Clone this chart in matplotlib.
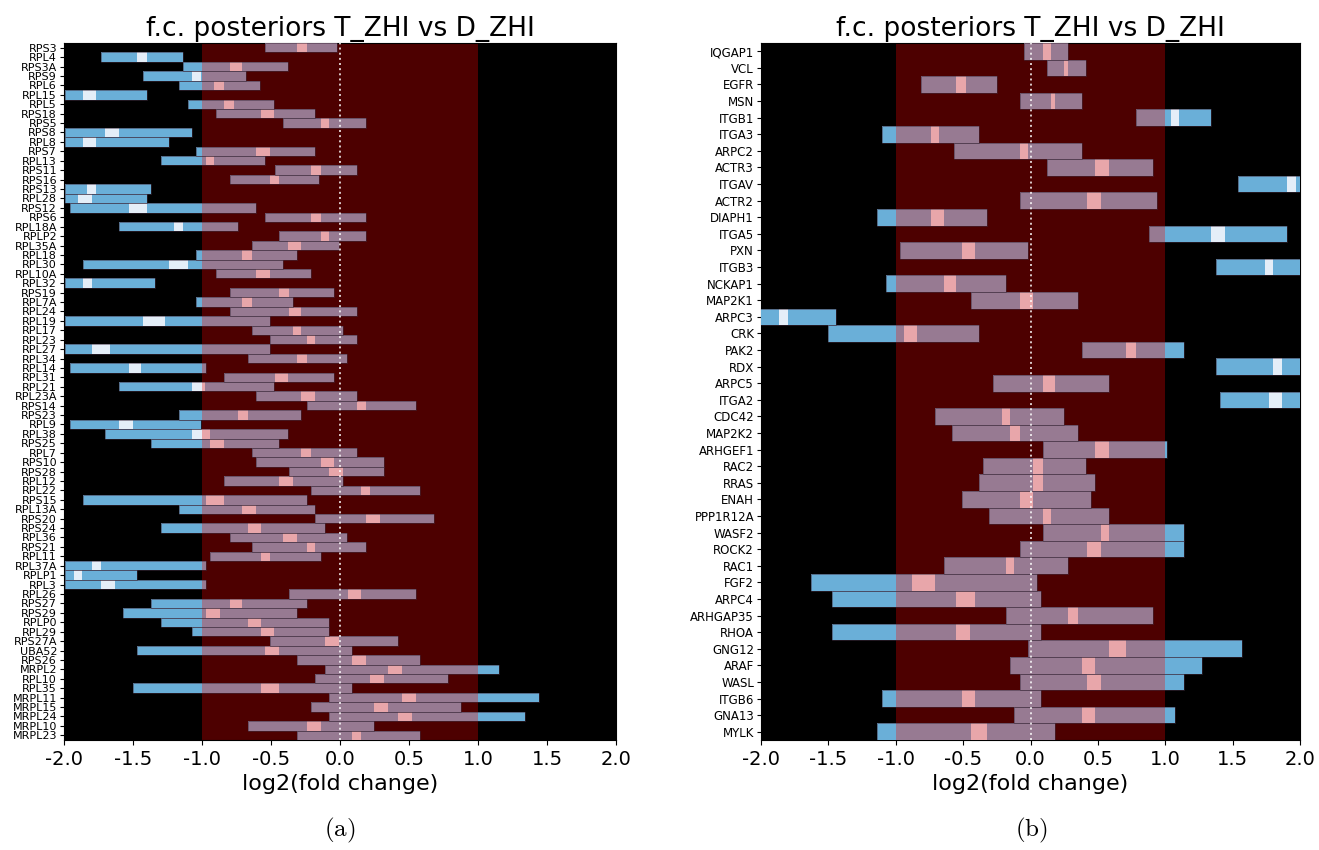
import matplotlib
matplotlib.use("Agg")
import matplotlib.pyplot as plt
from matplotlib import font_manager
import numpy as np

plt.rcParams['axes.unicode_minus'] = False
plt.rcParams['mathtext.fontset'] = 'cm'

# ---------------- data: panel (a) ----------------
genes_a = ["RPS3", "RPL4", "RPS3A", "RPS9", "RPL6", "RPL15", "RPL5", "RPS18", "RPS5", "RPS8",
           "RPL8", "RPS7", "RPL13", "RPS11", "RPS16", "RPS13", "RPL28", "RPS12", "RPS6", "RPL18A",
           "RPLP2", "RPL35A", "RPL18", "RPL30", "RPL10A", "RPL32", "RPS19", "RPL7A", "RPL24", "RPL19",
           "RPL17", "RPL23", "RPL27", "RPL34", "RPL14", "RPL31", "RPL21", "RPL23A", "RPS14", "RPS23",
           "RPL9", "RPL38", "RPS25", "RPL7", "RPS10", "RPS28", "RPL12", "RPL22", "RPS15", "RPL13A",
           "RPS20", "RPS24", "RPL36", "RPS21", "RPL11", "RPL37A", "RPLP1", "RPL3", "RPL26", "RPS27",
           "RPS29", "RPLP0", "RPL29", "RPS27A", "UBA52", "RPS26", "MRPL2", "RPL10", "RPL35", "MRPL11",
           "MRPL15", "MRPL24", "MRPL10", "MRPL23"]
lo_a = [-0.54, -1.73, -1.14, -1.43, -1.17, -1.99, -1.10, -0.90, -0.41, -1.99,
        -1.99, -1.04, -1.30, -0.47, -0.80, -1.99, -1.99, -1.96, -0.54, -1.60,
        -0.44, -0.64, -1.04, -1.86, -0.90, -1.99, -0.80, -1.04, -0.80, -1.99,
        -0.64, -0.51, -1.99, -0.67, -1.96, -0.84, -1.60, -0.61, -0.24, -1.17,
        -1.96, -1.70, -1.37, -0.64, -0.61, -0.37, -0.84, -0.21, -1.86, -1.17,
        -0.18, -1.30, -0.80, -0.64, -0.94, -1.99, -1.99, -1.99, -0.37, -1.37,
        -1.57, -1.30, -1.07, -0.51, -1.47, -0.31, -0.11, -0.18, -1.50, -0.08,
        -0.21, -0.08, -0.67, -0.31]
med_lo_a = [-0.31, -1.47, -0.80, -1.07, -0.91, -1.86, -0.84, -0.57, -0.14, -1.70,
            -1.86, -0.61, -0.97, -0.21, -0.51, -1.83, -1.90, -1.53, -0.21, -1.20,
            -0.14, -0.38, -0.71, -1.24, -0.61, -1.86, -0.44, -0.71, -0.37, -1.43,
            -0.34, -0.24, -1.80, -0.31, -1.53, -0.47, -1.07, -0.28, 0.12, -0.74,
            -1.60, -1.07, -0.94, -0.28, -0.14, -0.08, -0.44, 0.15, -0.97, -0.71,
            0.19, -0.67, -0.41, -0.24, -0.57, -1.80, -1.93, -1.73, 0.06, -0.80,
            -0.97, -0.67, -0.57, -0.11, -0.54, 0.09, 0.35, 0.22, -0.57, 0.45,
            0.25, 0.42, -0.24, 0.09]
med_hi_a = [-0.24, -1.40, -0.71, -1.01, -0.84, -1.77, -0.77, -0.48, -0.08, -1.60,
            -1.77, -0.51, -0.91, -0.14, -0.44, -1.77, -1.80, -1.40, -0.14, -1.14,
            -0.08, -0.28, -0.64, -1.10, -0.51, -1.80, -0.37, -0.64, -0.28, -1.27,
            -0.28, -0.18, -1.67, -0.24, -1.44, -0.38, -0.98, -0.18, 0.19, -0.67,
            -1.50, -0.94, -0.84, -0.21, -0.04, 0.02, -0.34, 0.22, -0.84, -0.61,
            0.29, -0.57, -0.31, -0.18, -0.51, -1.73, -1.87, -1.63, 0.15, -0.71,
            -0.87, -0.57, -0.48, -0.01, -0.44, 0.19, 0.45, 0.32, -0.44, 0.55,
            0.35, 0.52, -0.14, 0.15]
hi_a = [-0.02, -1.14, -0.38, -0.68, -0.58, -1.40, -0.48, -0.18, 0.19, -1.07,
        -1.24, -0.18, -0.54, 0.12, -0.15, -1.37, -1.40, -0.61, 0.19, -0.74,
        0.19, -0.01, -0.31, -0.41, -0.21, -1.34, -0.04, -0.34, 0.12, -0.51,
        0.02, 0.12, -0.51, 0.05, -0.97, -0.04, -0.48, 0.12, 0.55, -0.28,
        -1.01, -0.38, -0.44, 0.12, 0.32, 0.32, 0.02, 0.58, -0.24, -0.18,
        0.68, -0.11, 0.05, 0.19, -0.14, -0.97, -1.47, -0.97, 0.55, -0.24,
        -0.31, -0.08, -0.08, 0.42, 0.09, 0.58, 1.15, 0.78, 0.09, 1.44,
        0.88, 1.34, 0.25, 0.58]

# ---------------- data: panel (b) ----------------
genes_b = ["IQGAP1", "VCL", "EGFR", "MSN", "ITGB1", "ITGA3", "ARPC2", "ACTR3", "ITGAV", "ACTR2",
           "DIAPH1", "ITGA5", "PXN", "ITGB3", "NCKAP1", "MAP2K1", "ARPC3", "CRK", "PAK2", "RDX",
           "ARPC5", "ITGA2", "CDC42", "MAP2K2", "ARHGEF1", "RAC2", "RRAS", "ENAH", "PPP1R12A", "WASF2",
           "ROCK2", "RAC1", "FGF2", "ARPC4", "ARHGAP35", "RHOA", "GNG12", "ARAF", "WASL", "ITGB6",
           "GNA13", "MYLK"]
lo_b = [-0.05, 0.12, -0.81, -0.08, 0.78, -1.10, -0.57, 0.12, 1.54, -0.08,
        -1.14, 0.88, -0.97, 1.38, -1.07, -0.44, -2.05, -1.50, 0.38, 1.38,
        -0.28, 1.41, -0.71, -0.58, 0.09, -0.35, -0.38, -0.51, -0.31, 0.09,
        -0.08, -0.64, -1.63, -1.47, -0.18, -1.47, -0.02, -0.15, -0.08, -1.10,
        -0.12, -1.14]
med_lo_b = [0.09, 0.25, -0.55, 0.15, 1.04, -0.74, -0.08, 0.48, 1.90, 0.42,
            -0.74, 1.34, -0.51, 1.74, -0.64, -0.08, -1.87, -0.94, 0.71, 1.80,
            0.09, 1.77, -0.21, -0.15, 0.48, 0.02, 0.02, -0.08, 0.09, 0.52,
            0.42, -0.18, -0.88, -0.55, 0.28, -0.55, 0.58, 0.38, 0.42, -0.51,
            0.38, -0.44]
med_hi_b = [0.15, 0.28, -0.48, 0.18, 1.10, -0.68, -0.02, 0.58, 1.97, 0.52,
            -0.64, 1.44, -0.41, 1.80, -0.55, 0.02, -1.80, -0.84, 0.78, 1.87,
            0.18, 1.87, -0.15, -0.08, 0.58, 0.09, 0.09, 0.02, 0.15, 0.58,
            0.52, -0.12, -0.71, -0.41, 0.35, -0.45, 0.71, 0.48, 0.52, -0.41,
            0.48, -0.32]
hi_b = [0.28, 0.41, -0.25, 0.38, 1.34, -0.38, 0.38, 0.91, 2.05, 0.94,
        -0.32, 1.90, -0.02, 2.10, -0.18, 0.35, -1.44, -0.38, 1.14, 2.10,
        0.58, 2.10, 0.25, 0.35, 1.01, 0.41, 0.48, 0.45, 0.58, 1.14,
        1.14, 0.28, 0.05, 0.08, 0.91, 0.08, 1.57, 1.27, 1.14, 0.08,
        1.07, 0.18]

xticks = [-2.0, -1.5, -1.0, -0.5, 0.0, 0.5, 1.0, 1.5, 2.0]
title_text = "f.c. posteriors T_ZHI vs D_ZHI"
xlabel_text = "log2(fold change)"

# ---------------- style ----------------
C_BG = "#000000"
C_ROPE = "#4d0000"
C_OUT = "#6aafd8"
C_IN = "#977a92"
C_MED_IN = "#e8a6aa"
C_MED_OUT = "#e4eef8"
C_EDGE = (0.25, 0.18, 0.25, 0.6)

avail = {f.name for f in font_manager.fontManager.ttflist}
narrow = ["Liberation Sans Narrow", "DejaVu Sans"] if "Liberation Sans Narrow" in avail else ["DejaVu Sans"]


def split_draw(ax, y, lo, hi, c_in, c_out):
    lo = np.asarray(lo, float)
    hi = np.asarray(hi, float)
    # inside [-1, 1]
    a = np.clip(lo, -1, 1)
    b = np.clip(hi, -1, 1)
    ax.barh(y, b - a, left=a, height=1.0, color=c_in, linewidth=0, zorder=3)
    # below -1
    a = np.minimum(lo, -1)
    b = np.minimum(hi, -1)
    ax.barh(y, b - a, left=a, height=1.0, color=c_out, linewidth=0, zorder=3)
    # above 1
    a = np.maximum(lo, 1)
    b = np.maximum(hi, 1)
    ax.barh(y, b - a, left=a, height=1.0, color=c_out, linewidth=0, zorder=3)


def panel(ax, genes, lo, mlo, mhi, hi, ysize, yfam):
    n = len(genes)
    y = np.arange(n)
    ax.set_facecolor(C_BG)
    ax.axvspan(-1, 1, color=C_ROPE, zorder=1, linewidth=0)
    split_draw(ax, y, lo, hi, C_IN, C_OUT)
    lo_ = np.asarray(lo, float)
    hi_ = np.asarray(hi, float)
    ax.barh(y, hi_ - lo_, left=lo_, height=1.0, fill=False, edgecolor=C_EDGE,
            linewidth=0.6, zorder=4)
    split_draw(ax, y, mlo, mhi, C_MED_IN, C_MED_OUT)
    ax.axvline(0, color="white", linestyle=":", linewidth=1.4, alpha=0.8, zorder=6)
    ax.set_xlim(-2, 2)
    ax.set_ylim(n - 0.5, -0.5)
    ax.set_yticks(y)
    ax.set_yticklabels(genes, fontsize=ysize, family=yfam)
    ax.tick_params(axis="y", length=3, pad=2)
    ax.set_xticks(xticks)
    ax.set_xticklabels([f"{t:.1f}" for t in xticks], fontsize=14)
    ax.set_title(title_text, fontsize=19, pad=5)
    ax.set_xlabel(xlabel_text, fontsize=16, labelpad=4)


fig = plt.figure(figsize=(13.19, 8.5), dpi=100)
ax1 = fig.add_axes([64 / 1319, 1 - 740 / 850, (616 - 64) / 1319, (740 - 43) / 850])
ax2 = fig.add_axes([761 / 1319, 1 - 740 / 850, (1300 - 761) / 1319, (740 - 43) / 850])

panel(ax1, genes_a, lo_a, med_lo_a, med_hi_a, hi_a, 8, narrow)
panel(ax2, genes_b, lo_b, med_lo_b, med_hi_b, hi_b, 8.5, ["DejaVu Sans"])

fig.text(340 / 1319, 1 - 830 / 850, r"$\mathrm{(a)}$", fontsize=18, ha="center", va="center")
fig.text(1031 / 1319, 1 - 830 / 850, r"$\mathrm{(b)}$", fontsize=18, ha="center", va="center")

fig.savefig("out.png", dpi=100)
